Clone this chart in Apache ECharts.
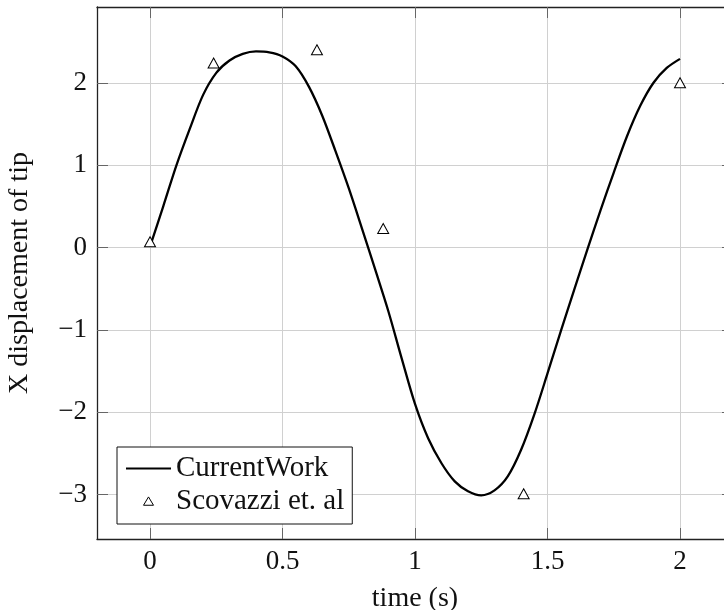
<!DOCTYPE html>
<html>
<head>
<meta charset="utf-8">
<script src="https://cdn.jsdelivr.net/npm/echarts@6/dist/echarts.min.js"></script>
<style>
html,body{margin:0;padding:0;background:#fff;}
#chart{width:724px;height:610px;}
</style>
</head>
<body>
<div id="chart"></div>
<script>
// ---- data ----
const xTicks = [0, 0.5, 1, 1.5, 2];
const yTicks = [-3, -2, -1, 0, 1, 2];
const timeCurve = [0, 0.05, 0.10, 0.15, 0.20, 0.25, 0.30, 0.35, 0.40, 0.45, 0.50, 0.55, 0.60, 0.65, 0.70, 0.75, 0.80, 0.85, 0.90, 0.95, 1.00, 1.05, 1.10, 1.15, 1.20, 1.25, 1.30, 1.35, 1.40, 1.45, 1.50, 1.55, 1.60, 1.65, 1.70, 1.75, 1.80, 1.85, 1.90, 1.95, 2.00];
const dispCurve = [0.01, 0.50, 1.00, 1.44, 1.85, 2.12, 2.27, 2.35, 2.38, 2.37, 2.32, 2.20, 1.95, 1.60, 1.17, 0.72, 0.23, -0.27, -0.78, -1.35, -1.90, -2.32, -2.62, -2.84, -2.96, -3.01, -2.95, -2.78, -2.46, -2.03, -1.53, -1.02, -0.52, -0.03, 0.45, 0.91, 1.35, 1.72, 2.00, 2.18, 2.29];
const timeRef = [0, 0.24, 0.63, 0.88, 1.41, 2.0];
const dispRef = [0.07, 2.24, 2.40, 0.23, -2.99, 2.0];
const seriesNames = ['CurrentWork', 'Scovazzi et. al'];
const xName = 'time (s)';
const yName = 'X displacement of tip';

const FONT = '"Liberation Serif", "Times New Roman", serif';
const fmt = v => (v < 0 ? '\u2212' + Math.abs(v) : String(v));

const tickStyle = {show: true, inside: true, length: 11, lineStyle: {color: '#666', width: 1}};
const frameLine = {show: true, onZero: false, lineStyle: {color: '#222', width: 1.3}};

const chart = echarts.init(document.getElementById('chart'), null, {renderer: 'canvas'});
chart.setOption({
  animation: false,
  backgroundColor: '#fff',
  grid: {left: 97, top: 7, right: -9, bottom: 71, containLabel: false, outerBoundsMode: 'none'},
  legend: {
    left: 117, top: 447,
    orient: 'vertical',
    backgroundColor: '#fff',
    borderColor: '#111', borderWidth: 1,
    padding: [7, 8, 8, 8],
    itemWidth: 45, itemHeight: 10, itemGap: 4,
    textStyle: {fontFamily: FONT, fontSize: 29, color: '#111'},
    data: [
      {name: seriesNames[0], itemStyle: {opacity: 0}},
      {name: seriesNames[1], icon: 'path://M0,-1 M45,11 M16.5,9.5 L22.5,-0.5 L28.5,9.5 Z',
       itemStyle: {color: '#fff', borderColor: '#000', borderWidth: 1}}
    ]
  },
  xAxis: [{
    type: 'value', min: -0.2, max: 2.2, position: 'bottom',
    name: xName, nameLocation: 'middle', nameGap: 46,
    nameTextStyle: {fontFamily: FONT, fontSize: 28, color: '#111'},
    axisLine: frameLine,
    axisTick: Object.assign({customValues: xTicks}, tickStyle),
    axisLabel: {customValues: xTicks, formatter: fmt, margin: 9, fontFamily: FONT, fontSize: 27, color: '#111'},
    splitLine: {show: true, lineStyle: {color: '#d0d0d0', width: 1}}
  }, {
    type: 'value', min: -0.2, max: 2.2, position: 'top',
    axisLine: frameLine,
    axisTick: Object.assign({customValues: xTicks}, tickStyle),
    axisLabel: {show: false},
    splitLine: {show: false}
  }],
  yAxis: [{
    type: 'value', min: -3.54, max: 2.92, position: 'left',
    name: yName, nameLocation: 'middle', nameGap: 63, nameRotate: 90,
    nameTextStyle: {fontFamily: FONT, fontSize: 28, color: '#111'},
    axisLine: frameLine,
    axisTick: Object.assign({customValues: yTicks}, tickStyle),
    axisLabel: {customValues: yTicks, formatter: fmt, margin: 10, fontFamily: FONT, fontSize: 27, color: '#111'},
    splitLine: {show: true, lineStyle: {color: '#d0d0d0', width: 1}}
  }, {
    type: 'value', min: -3.54, max: 2.92, position: 'right',
    axisLine: frameLine,
    axisTick: Object.assign({customValues: yTicks}, tickStyle),
    axisLabel: {show: false},
    splitLine: {show: false}
  }],
  series: [{
    name: seriesNames[0],
    type: 'line',
    data: timeCurve.map((t, i) => [t, dispCurve[i]]),
    smooth: 0.3,
    symbol: 'none',
    lineStyle: {color: '#000', width: 2.3},
    itemStyle: {color: '#000'},
    z: 3
  }, {
    name: seriesNames[1],
    type: 'scatter',
    data: timeRef.map((t, i) => [t, dispRef[i]]),
    symbol: 'triangle',
    symbolSize: [11, 10],
    itemStyle: {color: '#fff', borderColor: '#000', borderWidth: 1, opacity: 1},
    z: 4
  }]
});
</script>
</body>
</html>
